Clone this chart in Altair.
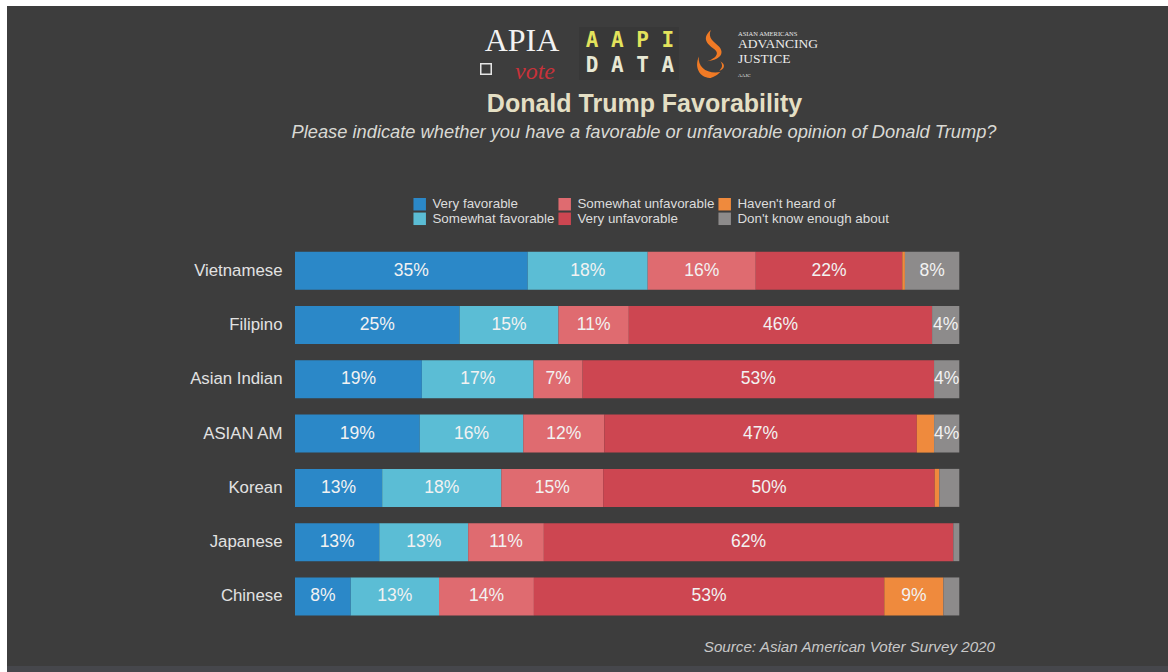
import altair as alt
import pandas as pd

# ---------------- data ----------------
groups = ["Vietnamese", "Filipino", "Asian Indian", "ASIAN AM", "Korean", "Japanese", "Chinese"]
categories = ["Very favorable", "Somewhat favorable", "Somewhat unfavorable",
              "Very unfavorable", "Haven't heard of", "Don't know enough about"]
cat_colors = ["#2b88c8", "#5bbdd5", "#df6b70", "#cd4651", "#ef8a3d", "#8d8b8b"]

very_fav       = [35.1, 24.8, 19.1, 18.8, 13.1, 12.7, 8.4]
somewhat_fav   = [18.1, 14.9, 16.8, 15.6, 17.9, 13.4, 13.3]
somewhat_unfav = [16.3, 10.6, 7.4, 12.2, 15.3, 11.4, 14.3]
very_unfav     = [22.1, 45.7, 52.9, 47.1, 49.8, 61.7, 52.8]
havent_heard   = [0.4, 0.0, 0.0, 2.6, 0.7, 0.0, 8.9]
dont_know      = [8.2, 4.1, 3.8, 3.8, 3.0, 0.9, 2.4]

series = [very_fav, somewhat_fav, somewhat_unfav, very_unfav, havent_heard, dont_know]

rows = []
for gi, g in enumerate(groups):
    for ci, c in enumerate(categories):
        v = series[ci][gi]
        rows.append({"group": g, "cat": c, "k": ci, "value": v,
                     "label": f"{int(v + 0.5)}%" if v >= 3.5 else ""})
df = pd.DataFrame(rows)

# legend order (column-major layout in 3 columns)
legend_idx = [0, 2, 4, 1, 3, 5]
legend_domain = [categories[i] for i in legend_idx]
legend_range = [cat_colors[i] for i in legend_idx]

# ---------------- layout ----------------
W, H = 1168, 672
PL, PT = 295, 243.6
PW, PH = 664.3, 380
BG = "#3d3d3d"
FONT = "Liberation Sans"


def ax(x):
    return x - PL


def ay(y):
    return y - PT


one = alt.Data(values=[{"t": ""}])

base = alt.Chart(df).transform_stack(
    stack="value", groupby=["group"], as_=["x0", "x1"], offset="normalize",
    sort=[alt.SortField("k", order="ascending")]
).transform_calculate(xm="(datum.x0 + datum.x1) / 2")

yenc = alt.Y("group:N", sort=groups,
             scale=alt.Scale(paddingInner=0.3, paddingOuter=0.15),
             axis=alt.Axis(title=None, ticks=False, domain=False, grid=False,
                           labelFontSize=16.8, labelColor="#e2e2e2", labelFont=FONT,
                           labelPadding=13))

bars = base.mark_bar().encode(
    y=yenc,
    x=alt.X("x0:Q", scale=alt.Scale(domain=[0, 1], nice=False, zero=False), axis=None),
    x2="x1:Q",
    color=alt.Color("cat:N", scale=alt.Scale(domain=legend_domain, range=legend_range),
                    legend=alt.Legend(title=None, orient="none", legendX=118, legendY=-46.5,
                                      columns=3, direction="horizontal",
                                      symbolType="square", symbolSize=156,
                                      symbolStrokeWidth=0, labelFontSize=13.4,
                                      labelColor="#dcdcdc", labelFont=FONT,
                                      columnPadding=3, rowPadding=0, labelOffset=6,
                                      padding=0, labelLimit=300)),
)

labels = base.mark_text(fontSize=17.5, color="#f2f2f2", font=FONT).encode(
    y=alt.Y("group:N", sort=groups),
    x=alt.X("xm:Q"),
    text="label:N",
)


def txt(text, x, y, size, color, font=FONT, weight="normal", style="normal",
        align="left", baseline="middle"):
    return alt.Chart(alt.Data(values=[{"t": text}])).mark_text(
        fontSize=size, color=color, font=font, fontWeight=weight, fontStyle=style,
        align=align, baseline=baseline
    ).encode(x=alt.value(ax(x)), y=alt.value(ay(y)), text="t:N")


def rect(x1, y1, x2, y2, color):
    return alt.Chart(one).mark_rect(color=color).encode(
        x=alt.value(ax(x1)), x2=alt.value(ax(x2)), y=alt.value(ay(y1)), y2=alt.value(ay(y2)))


# borders of the picture
borders = [
    rect(0, 0, W, 6, "#ffffff"),
    rect(0, 0, 7, H, "#ffffff"),
    rect(7, 666, W, H, "#46474c"),
]

# titles
titles = [
    txt("Donald Trump Favorability", 644.5, 103.5, 25, "#e4dfc4", weight="bold", align="center"),
    txt("Please indicate whether you have a favorable or unfavorable opinion of Donald Trump?",
        644, 133, 18.3, "#d9d9d4", style="italic", align="center"),
    txt("Source: Asian American Voter Survey 2020", 995, 647, 15.2, "#c8c8c8",
        style="italic", align="right"),
]

# logos (approximated with text and shapes)
flame_path = ("M -0.05 -1 C -0.5 -0.6 -0.1 -0.35 0.1 -0.2 C 0.35 0 0.1 0.2 -0.2 0.3 "
              "C 0.3 0.25 0.55 0 0.3 -0.3 C 0.1 -0.5 -0.2 -0.65 -0.05 -1 Z "
              "M -0.55 0.1 C -0.6 0.55 -0.2 0.85 0.35 0.75 C 0.2 0.9 0 1 -0.1 1 "
              "C -0.5 0.95 -0.75 0.6 -0.55 0.1 Z "
              "M 0.35 0.3 C 0.6 0.45 0.5 0.65 0.3 0.7 C 0.45 0.55 0.45 0.45 0.35 0.3 Z")

logos = [
    txt("APIA", 522, 41, 32, "#f2f2f2", font="Liberation Serif", align="center"),
    txt("vote", 535, 71.5, 24, "#c8323a", font="Liberation Serif", style="italic", align="center"),
    alt.Chart(one).mark_point(shape="square", size=110, filled=False, color="#e6e6e6",
                              opacity=1, strokeWidth=1.5).encode(
        x=alt.value(ax(486)), y=alt.value(ay(69))),
    rect(579, 27, 679, 80, "#383838"),
    txt("A A P I", 630, 41, 21, "#e3e35c", font="DejaVu Sans Mono", weight="bold", align="center"),
    txt("D A T A", 630, 66, 21, "#e8e8d4", font="DejaVu Sans Mono", weight="bold", align="center"),
    alt.Chart(one).mark_point(shape=flame_path, size=2300, filled=True, color="#f07a25",
                              opacity=1, strokeWidth=0).encode(
        x=alt.value(ax(712)), y=alt.value(ay(54))),
    txt("ASIAN AMERICANS", 738, 34, 6.5, "#e8e8e8", font="Liberation Serif"),
    txt("ADVANCING", 738, 44, 13.5, "#ececec", font="Liberation Serif"),
    txt("JUSTICE", 738, 59, 13.5, "#ececec", font="Liberation Serif"),
    txt("AAJC", 738, 75, 5, "#e8e8e8", font="Liberation Serif"),
]

chart = alt.layer(*borders, bars, labels, *titles, *logos).properties(
    width=PW, height=PH, autosize="none",
    padding={"left": PL, "top": PT, "right": W - PL - PW, "bottom": H - PT - PH},
    background=BG,
).configure_view(stroke=None)

chart.save("out.html", embed_options={"renderer": "svg", "actions": False})
